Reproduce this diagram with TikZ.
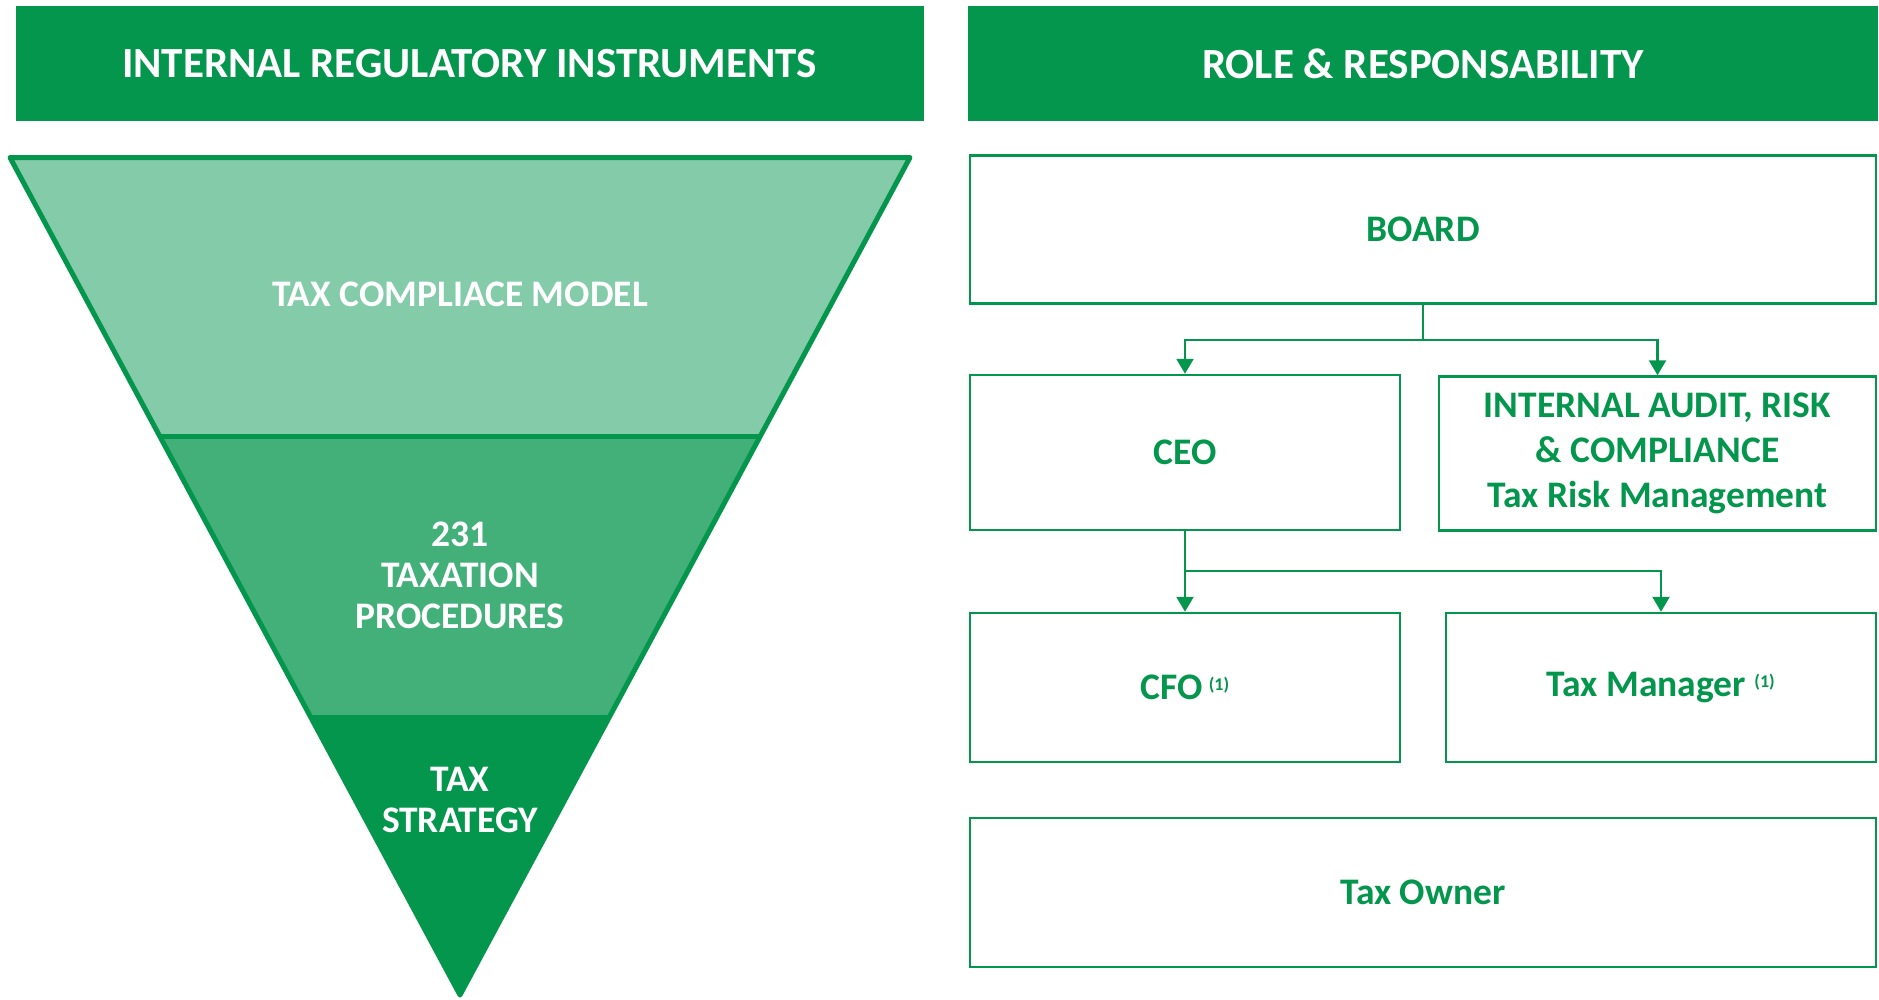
\documentclass[tikz,border=0pt]{standalone}
\usepackage{fontspec}
\setmainfont{Carlito}
\usetikzlibrary{arrows.meta}
\definecolor{dkgreen}{RGB}{4,150,77}
\definecolor{midgreen}{RGB}{67,176,122}
\definecolor{ltgreen}{RGB}{132,203,170}
\tikzset{
  header/.style={fill=dkgreen, draw=none, inner sep=0pt, text=white,
    font=\fontsize{43}{50}\selectfont\bfseries},
  band/.style={text=white, align=center, font=\fontsize{37.5}{41}\selectfont\bfseries},
  rolebox/.style={draw=dkgreen, line width=2.5pt, fill=white, inner sep=0pt,
    text=dkgreen, align=center, font=\fontsize{37.5}{45}\selectfont\bfseries},
  conn/.style={draw=dkgreen, line width=2.5pt,
    -{Triangle[length=15pt,width=17pt]}},
  plainline/.style={draw=dkgreen, line width=2.5pt}
}
\newcommand{\supone}{\textsuperscript{\fontsize{18}{18}\selectfont(1)}}
\begin{document}
\begin{tikzpicture}[x=1pt,y=-1pt]
\useasboundingbox (0,0) rectangle (1879,999);
% headers
\node[header, minimum width=908pt, minimum height=115pt] (hleft) at (469.5,63.5) {INTERNAL REGULATORY INSTRUMENTS};
\node[header, minimum width=910pt, minimum height=115pt] (hright) at (1423,63.5) {ROLE \& RESPONSABILITY};
% inverted triangle
\begin{scope}
  \clip (10,157.5) -- (910,157.5) -- (460,995) -- cycle;
  \fill[ltgreen] (0,150) rectangle (920,436);
  \fill[midgreen] (0,436) rectangle (920,715);
  \fill[dkgreen] (0,715) rectangle (920,1000);
\end{scope}
\draw[dkgreen, line width=5pt] (160,436) -- (760,436);
\draw[dkgreen, line width=5pt, line join=round] (10,157.5) -- (910,157.5) -- (460,995) -- cycle;
\node[band] (t1) at (460,294) {TAX COMPLIACE MODEL};
\node[band] (t2) at (460,575) {231\\TAXATION\\PROCEDURES};
\node[band] (t3) at (460,800) {TAX\\STRATEGY};
% role boxes
\node[rolebox, minimum width=906pt, minimum height=148pt] (board) at (1423,229.5) {BOARD};
\node[rolebox, minimum width=430pt, minimum height=155pt] (ceo) at (1185,452.5) {CEO};
\node[rolebox, minimum width=437pt, minimum height=154pt] (ia) at (1657.5,453.5) {INTERNAL AUDIT, RISK\\\& COMPLIANCE\\Tax Risk Management};
\node[rolebox, minimum width=430pt, minimum height=149pt] (cfo) at (1185,687.5) {CFO\,\supone};
\node[rolebox, minimum width=430pt, minimum height=149pt] (taxm) at (1661,687.5) {Tax Manager \supone};
\node[rolebox, minimum width=906pt, minimum height=149pt] (owner) at (1423,892.5) {Tax Owner};
% connectors
\coordinate (j1) at (1423,340);
\coordinate (j2) at (1185,571);
\draw[plainline] (board.south) -- (j1);
\draw[conn] (j1) -| (ceo.north);
\draw[conn] (j1) -| (ia.north);
\draw[plainline] (ceo.south) -- (j2);
\draw[conn] (j2) -- (cfo.north);
\draw[conn] (j2) -| (taxm.north);
\end{tikzpicture}
\end{document}
